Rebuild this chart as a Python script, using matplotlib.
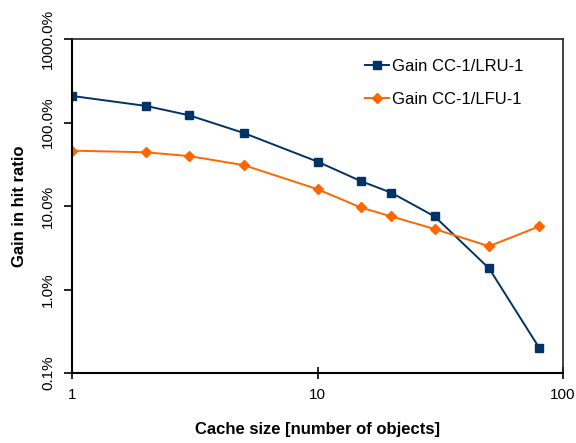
import matplotlib.pyplot as plt
from matplotlib.ticker import FixedLocator, NullLocator

plt.rcParams['font.family'] = ['Liberation Sans', 'DejaVu Sans']

# cache sizes and gains (in percent)
cache_size = [1, 2, 3, 5, 10, 15, 20, 30, 50, 80]
gain_lru = [208, 158, 122, 75, 34, 19.9, 14.4, 7.5, 1.79, 0.20]
gain_lfu = [46, 44, 39.6, 30.9, 15.9, 9.6, 7.5, 5.3, 3.3, 5.7]
y_ticks = [0.1, 1, 10, 100, 1000]
y_tick_labels = ["0.1%", "1.0%", "10.0%", "100.0%", "1000.0%"]
x_ticks = [1, 10, 100]

fig = plt.figure(figsize=(5.76, 4.43), dpi=100)
ax = fig.add_axes([72 / 576, 1 - 373 / 443, 491 / 576, 334 / 443])

ax.plot(cache_size, gain_lru, color="#003366", marker="s", markersize=5.6,
        linewidth=1.4, label="Gain CC-1/LRU-1")
ax.plot(cache_size, gain_lfu, color="#ff6600", marker="D", markersize=4.8,
        linewidth=1.4, label="Gain CC-1/LFU-1")

ax.set_xscale("log")
ax.set_yscale("log")
ax.set_xlim(1, 100)
ax.set_ylim(0.1, 1000)

ax.xaxis.set_major_locator(FixedLocator(x_ticks))
ax.xaxis.set_minor_locator(NullLocator())
ax.set_xticklabels([str(v) for v in x_ticks], fontsize=11)
ax.yaxis.set_major_locator(FixedLocator(y_ticks))
ax.yaxis.set_minor_locator(NullLocator())
ax.set_yticklabels(y_tick_labels, fontsize=11, rotation=90, va="center")

ax.tick_params(axis="x", direction="inout", length=8, width=1.2, pad=7)
ax.tick_params(axis="y", direction="out", length=6, width=1.2, pad=6)

for side in ("left", "bottom"):
    ax.spines[side].set_linewidth(1.5)
    ax.spines[side].set_color("black")
for side in ("top", "right"):
    ax.spines[side].set_linewidth(1.2)
    ax.spines[side].set_color("#222222")

ax.set_xlabel("Cache size [number of objects]", fontsize=12, fontweight="bold",
              labelpad=14)
ax.set_ylabel("Gain in hit ratio", fontsize=12, fontweight="bold", labelpad=10)

ax.legend(loc="upper left", bbox_to_anchor=(0.567, 0.985), frameon=False,
          fontsize=12, handlelength=1.4, handletextpad=0.2, labelspacing=1.05)

fig.savefig("out.png", dpi=100)
